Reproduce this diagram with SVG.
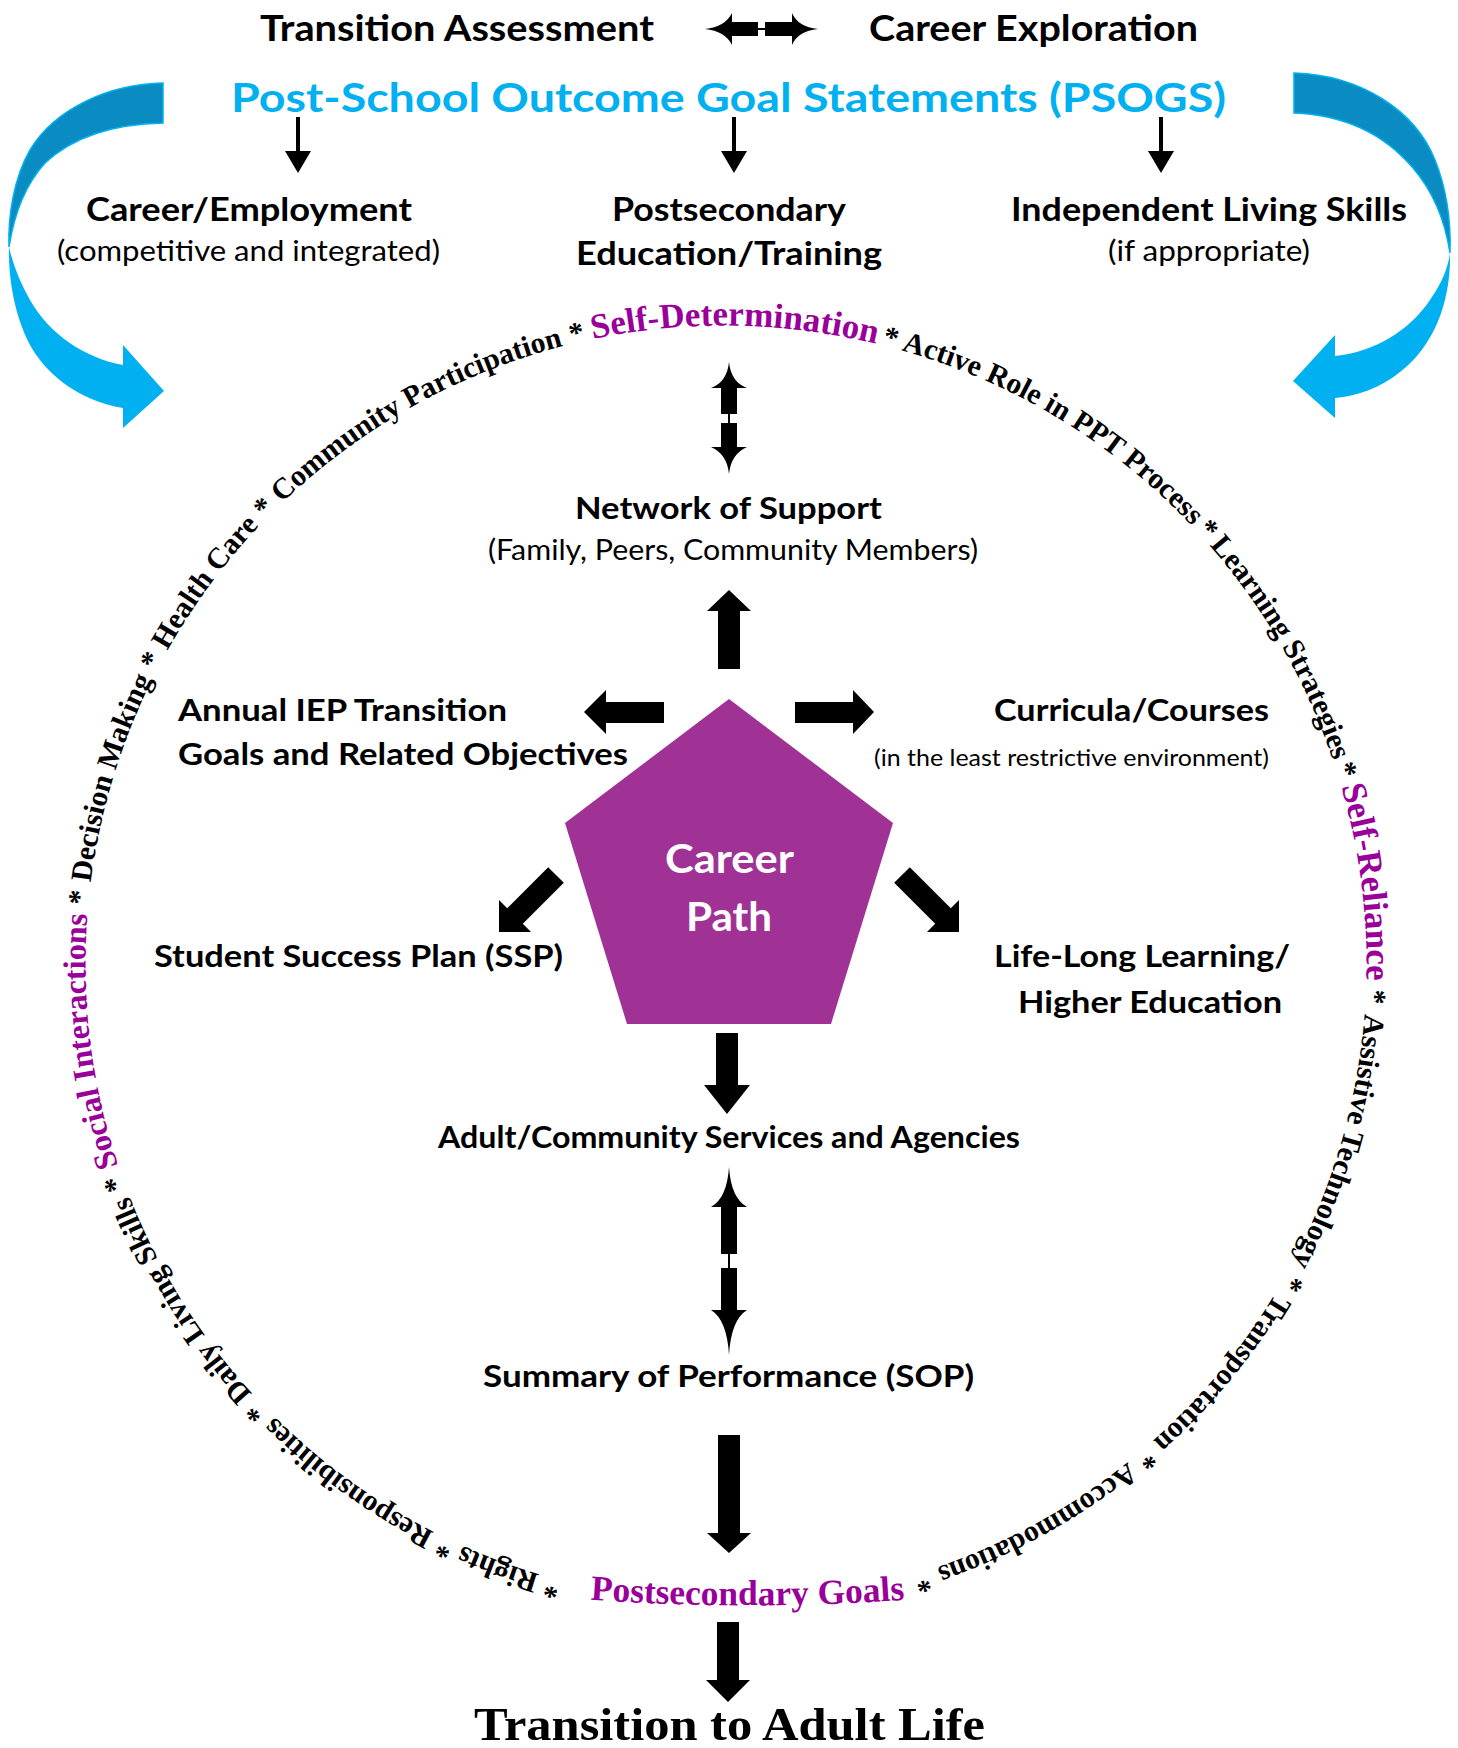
<svg xmlns="http://www.w3.org/2000/svg" xmlns:xlink="http://www.w3.org/1999/xlink" width="1458" height="1748" viewBox="0 0 1458 1748">
<style>
.b{font-family:Lato,"Liberation Sans",sans-serif;font-weight:700;fill:#000}
.r{font-family:Lato,"Liberation Sans",sans-serif;font-weight:400;fill:#000}
.ring{font-family:"Liberation Serif","Times New Roman",serif;font-weight:700;fill:#000;font-size:29.7px;text-anchor:middle}
.pur{fill:#990099;font-size:35px}
.blk{fill:#000}
.blueL{fill:#00B0F0}
.blueD{fill:#0A8CC2;stroke:#00B0F0;stroke-width:1.5}
.link{stroke:#000;stroke-width:2}
</style>
<defs>
<path id="ringPath" d="M 615.2 1592.3 A 638 638 0 1 1 836.8 335.7 A 638 638 0 1 1 615.2 1592.3"/>
<path id="pgPath" d="M 580 1599 Q 747 1612 915 1599"/>
</defs>
<rect width="1458" height="1748" fill="#fff"/>

<g id="node-transition-assessment"><text class="b" x="260" y="41" font-size="37" textLength="394" lengthAdjust="spacingAndGlyphs">Transition Assessment</text></g>
<g id="node-career-exploration"><text class="b" x="869" y="41" font-size="37" textLength="329" lengthAdjust="spacingAndGlyphs">Career Exploration</text></g>
<g id="node-psogs"><text class="b" x="231" y="112" font-size="40" style="fill:#00B0F0" textLength="995" lengthAdjust="spacingAndGlyphs">Post-School Outcome Goal Statements (PSOGS)</text></g>
<g id="node-career-employment">
<text class="b" x="86" y="221" font-size="32" textLength="326" lengthAdjust="spacingAndGlyphs">Career/Employment</text>
<text class="r" x="57" y="261" font-size="28" textLength="383" lengthAdjust="spacingAndGlyphs">(competitive and integrated)</text>
</g>
<g id="node-postsecondary-education">
<text class="b" x="612" y="221" font-size="32" textLength="234" lengthAdjust="spacingAndGlyphs">Postsecondary</text>
<text class="b" x="576" y="265" font-size="32" textLength="306" lengthAdjust="spacingAndGlyphs">Education/Training</text>
</g>
<g id="node-independent-living">
<text class="b" x="1011" y="221" font-size="32" textLength="396" lengthAdjust="spacingAndGlyphs">Independent Living Skills</text>
<text class="r" x="1108" y="261" font-size="28" textLength="202" lengthAdjust="spacingAndGlyphs">(if appropriate)</text>
</g>

<g id="node-ring">
<text class="ring"><textPath href="#ringPath" xlink:href="#ringPath" startOffset="62.4">*</textPath></text>
<text class="ring"><textPath href="#ringPath" xlink:href="#ringPath" startOffset="119.0">Rights</textPath></text>
<text class="ring"><textPath href="#ringPath" xlink:href="#ringPath" startOffset="175.5">*</textPath></text>
<text class="ring"><textPath href="#ringPath" xlink:href="#ringPath" startOffset="290.4">Responsibilities</textPath></text>
<text class="ring"><textPath href="#ringPath" xlink:href="#ringPath" startOffset="405.2">*</textPath></text>
<text class="ring"><textPath href="#ringPath" xlink:href="#ringPath" startOffset="538.3">Daily Living Skills</textPath></text>
<text class="ring"><textPath href="#ringPath" xlink:href="#ringPath" startOffset="671.5">*</textPath></text>
<text class="ring pur" style="font-size:32px"><textPath href="#ringPath" xlink:href="#ringPath" startOffset="815.1">Social Interactions</textPath></text>
<text class="ring"><textPath href="#ringPath" xlink:href="#ringPath" startOffset="958.6">*</textPath></text>
<text class="ring"><textPath href="#ringPath" xlink:href="#ringPath" startOffset="1081.3">Decision Making</textPath></text>
<text class="ring"><textPath href="#ringPath" xlink:href="#ringPath" startOffset="1204.0">*</textPath></text>
<text class="ring"><textPath href="#ringPath" xlink:href="#ringPath" startOffset="1297.8">Health Care</textPath></text>
<text class="ring"><textPath href="#ringPath" xlink:href="#ringPath" startOffset="1391.6">*</textPath></text>
<text class="ring"><textPath href="#ringPath" xlink:href="#ringPath" startOffset="1570.4">Community Participation</textPath></text>
<text class="ring"><textPath href="#ringPath" xlink:href="#ringPath" startOffset="1749.2">*</textPath></text>
<text class="ring pur"><textPath href="#ringPath" xlink:href="#ringPath" startOffset="1906.7">Self-Determination</textPath></text>
<text class="ring"><textPath href="#ringPath" xlink:href="#ringPath" startOffset="2062.4">*</textPath></text>
<text class="ring"><textPath href="#ringPath" xlink:href="#ringPath" startOffset="2247.3">Active Role in PPT Process</textPath></text>
<text class="ring"><textPath href="#ringPath" xlink:href="#ringPath" startOffset="2432.3">*</textPath></text>
<text class="ring"><textPath href="#ringPath" xlink:href="#ringPath" startOffset="2570.2">Learning Strategies</textPath></text>
<text class="ring"><textPath href="#ringPath" xlink:href="#ringPath" startOffset="2708.0">*</textPath></text>
<text class="ring pur"><textPath href="#ringPath" xlink:href="#ringPath" startOffset="2820.3">Self-Reliance</textPath></text>
<text class="ring"><textPath href="#ringPath" xlink:href="#ringPath" startOffset="2934.4">*</textPath></text>
<text class="ring"><textPath href="#ringPath" xlink:href="#ringPath" startOffset="3082.6">Assistive Technology</textPath></text>
<text class="ring"><textPath href="#ringPath" xlink:href="#ringPath" startOffset="3230.9">*</textPath></text>
<text class="ring"><textPath href="#ringPath" xlink:href="#ringPath" startOffset="3344.1">Transportation</textPath></text>
<text class="ring"><textPath href="#ringPath" xlink:href="#ringPath" startOffset="3457.3">*</textPath></text>
<text class="ring"><textPath href="#ringPath" xlink:href="#ringPath" startOffset="3582.8">Accommodations</textPath></text>
<text class="ring"><textPath href="#ringPath" xlink:href="#ringPath" startOffset="3710.2">*</textPath></text>
</g>
<g id="node-postsecondary-goals">
<text class="ring" style="font-size:35.5px;fill:#990099"><textPath xlink:href="#pgPath" href="#pgPath" startOffset="50%">Postsecondary Goals</textPath></text>
</g>

<g id="node-network">
<text class="b" x="575" y="519" font-size="31" textLength="307" lengthAdjust="spacingAndGlyphs">Network of Support</text>
<text class="r" x="488" y="560" font-size="28" textLength="490" lengthAdjust="spacingAndGlyphs">(Family, Peers, Community Members)</text>
</g>
<g id="node-iep">
<text class="b" x="178" y="721" font-size="31" textLength="329" lengthAdjust="spacingAndGlyphs">Annual IEP Transition</text>
<text class="b" x="178" y="765" font-size="31" textLength="450" lengthAdjust="spacingAndGlyphs">Goals and Related Objectives</text>
</g>
<g id="node-curricula">
<text class="b" x="994" y="721" font-size="31" textLength="275" lengthAdjust="spacingAndGlyphs">Curricula/Courses</text>
<text class="r" x="874" y="766" font-size="24" textLength="395" lengthAdjust="spacingAndGlyphs">(in the least restrictive environment)</text>
</g>
<g id="node-career-path">
<polygon points="729,699 893,823 831,1024 627,1024 565,823" fill="#A03296"/>
<text class="b" x="665" y="873" font-size="40" style="fill:#fff" textLength="129" lengthAdjust="spacingAndGlyphs">Career</text>
<text class="b" x="686" y="931" font-size="40" style="fill:#fff" textLength="86" lengthAdjust="spacingAndGlyphs">Path</text>
</g>
<g id="node-ssp"><text class="b" x="154" y="967" font-size="31" textLength="409" lengthAdjust="spacingAndGlyphs">Student Success Plan (SSP)</text></g>
<g id="node-lifelong">
<text class="b" x="994" y="967" font-size="31" textLength="296" lengthAdjust="spacingAndGlyphs">Life-Long Learning/</text>
<text class="b" x="1018" y="1013" font-size="31" textLength="264" lengthAdjust="spacingAndGlyphs">Higher Education</text>
</g>
<g id="node-adult"><text class="b" x="438" y="1148" font-size="30" textLength="582" lengthAdjust="spacingAndGlyphs">Adult/Community Services and Agencies</text></g>
<g id="node-sop"><text class="b" x="483" y="1387" font-size="30" textLength="491" lengthAdjust="spacingAndGlyphs">Summary of Performance (SOP)</text></g>
<g id="node-transition-adult"><text x="474" y="1740" font-size="46" font-family="'Liberation Serif','Times New Roman',serif" font-weight="700" textLength="511" lengthAdjust="spacingAndGlyphs">Transition to Adult Life</text></g>

<g id="connectors">
<path class="blueD" d="M163,83 C110,84 55,108 30,150 C14,178 8,215 9,247 C14,215 25,185 45,163 C75,135 115,124 163,123 Z"/>
<path class="blueL" d="M9,247 C8,290 20,335 40,360 C55,380 85,402 123,408 L123,428 L164,391 L123,345 L123,365 C85,358 50,335 30,300 C20,282 13,265 9,247 Z"/>
<path class="blueD" d="M1294,73 C1360,75 1415,110 1435,160 C1447,190 1451,222 1450,253 C1445,220 1432,190 1413,168 C1385,135 1345,115 1294,113 Z"/>
<path class="blueL" d="M1450,253 C1451,300 1435,345 1400,372 C1380,388 1358,396 1335,398 L1335,418 L1293,381 L1335,335 L1335,356 C1375,352 1410,330 1430,300 C1442,283 1448,268 1450,253 Z"/>

<path class="blk" d="M705,29 Q725,27 732,13 L732,22 L758,22 L758,36 L732,36 L732,45 Q725,31 705,29 Z"/>
<line class="link" x1="757" y1="29" x2="766" y2="29"/>
<path class="blk" d="M818,29 Q798,27 792,13 L792,22 L765,22 L765,36 L792,36 L792,45 Q798,31 818,29 Z"/>

<rect class="blk" x="296" y="117" width="4" height="35"/><path class="blk" d="M285,151 L311,151 L298,173 Z"/>
<rect class="blk" x="732" y="117" width="4" height="35"/><path class="blk" d="M721,151 L747,151 L734,173 Z"/>
<rect class="blk" x="1159" y="117" width="4" height="35"/><path class="blk" d="M1148,151 L1174,151 L1161,173 Z"/>

<path class="blk" d="M729,362 Q731,382 747,388 L737,388 L737,414 L721,414 L721,388 L711,388 Q727,382 729,362 Z"/>
<line class="link" x1="729" y1="413" x2="729" y2="424"/>
<path class="blk" d="M729,474 Q731,454 747,447 L737,447 L737,423 L721,423 L721,447 L711,447 Q727,454 729,474 Z"/>

<path class="blk" d="M729,590 L751,611 L740,611 L740,669 L718,669 L718,611 L707,611 Z"/>
<path class="blk" d="M584,712 L606,690 L606,702 L664,702 L664,723 L606,723 L606,734 Z"/>
<path class="blk" d="M874,712 L853,690 L853,702 L795,702 L795,723 L853,723 L853,734 Z"/>
<path class="blk" d="M499,932 L499,900 L507.2,908.2 L548.2,867.2 L563.8,882.8 L522.8,923.8 L531,932 Z"/>
<path class="blk" d="M959,932 L959,900 L950.8,908.2 L909.8,867.2 L894.2,882.8 L935.2,923.8 L927,932 Z"/>
<path class="blk" d="M716,1033 L738,1033 L738,1085 L750,1085 L727,1114 L704,1085 L716,1085 Z"/>

<path class="blk" d="M729,1167 Q731,1198 747,1207 L737,1207 L737,1254 L721,1254 L721,1207 L711,1207 Q727,1198 729,1167 Z"/>
<line class="link" x1="729" y1="1253" x2="729" y2="1269"/>
<path class="blk" d="M729,1355 Q731,1320 747,1310 L737,1310 L737,1268 L721,1268 L721,1310 L711,1310 Q727,1320 729,1355 Z"/>

<path class="blk" d="M718,1435 L740,1435 L740,1533 L751,1533 L729,1553 L707,1533 L718,1533 Z"/>
<path class="blk" d="M717,1622 L739,1622 L739,1680 L750,1680 L728,1702 L706,1680 L717,1680 Z"/>
</g>
</svg>
